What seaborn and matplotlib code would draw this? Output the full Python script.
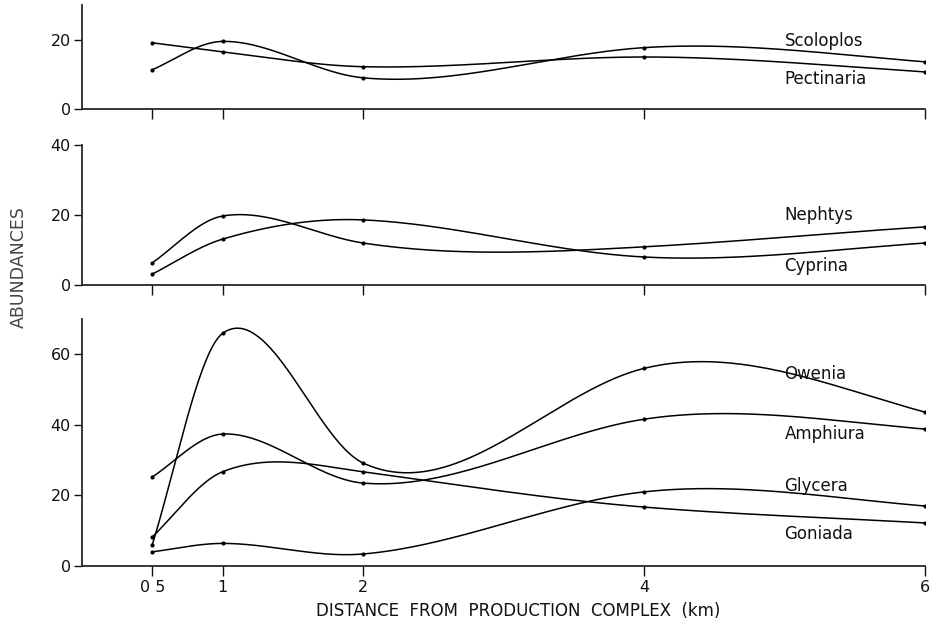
import numpy as np
import pandas as pd
import matplotlib
matplotlib.use("Agg")
import matplotlib.pyplot as plt
import seaborn as sns

# ---- data ----
distance = [0.5, 1, 2, 4, 6]
x_ticks = [0.5, 1, 2, 4, 6]
x_tick_labels = ["0 5", "1", "2", "4", "6"]

scoloplos = [11.3, 19.5, 9.0, 17.7, 13.6]
pectinaria = [19.1, 16.5, 12.2, 15.0, 10.7]

nephtys = [6.3, 19.7, 12.0, 10.9, 16.6]
cyprina = [3.1, 13.1, 18.6, 8.0, 12.0]

owenia = [6.0, 65.9, 29.2, 56.0, 43.6]
amphiura = [25.2, 37.4, 23.5, 41.6, 38.8]
glycera = [4.0, 6.4, 3.4, 21.0, 17.0]
goniada = [8.2, 26.7, 26.7, 16.7, 12.2]

panels = [
    {"series": {"Scoloplos": scoloplos, "Pectinaria": pectinaria},
     "label_y": {"Scoloplos": 19.7, "Pectinaria": 8.7},
     "ylim": 30, "yticks": [0, 20]},
    {"series": {"Nephtys": nephtys, "Cyprina": cyprina},
     "label_y": {"Nephtys": 20.0, "Cyprina": 5.4},
     "ylim": 40, "yticks": [0, 20, 40]},
    {"series": {"Owenia": owenia, "Amphiura": amphiura,
                "Glycera": glycera, "Goniada": goniada},
     "label_y": {"Owenia": 54.3, "Amphiura": 37.4, "Glycera": 22.6, "Goniada": 9.0},
     "ylim": 70, "yticks": [0, 20, 40, 60]},
]


def hermite_curve(x, y, xs):
    """Cubic Hermite curve through the points (Catmull-Rom style tangents)."""
    n = len(x)
    m = np.empty(n)
    m[0] = (y[1] - y[0]) / (x[1] - x[0])
    m[-1] = (y[-1] - y[-2]) / (x[-1] - x[-2])
    for i in range(1, n - 1):
        m[i] = (y[i + 1] - y[i - 1]) / (x[i + 1] - x[i - 1])
    out = np.empty_like(xs)
    for k, xv in enumerate(xs):
        i = min(max(np.searchsorted(x, xv) - 1, 0), n - 2)
        h = x[i + 1] - x[i]
        t = (xv - x[i]) / h
        out[k] = ((2 * t ** 3 - 3 * t ** 2 + 1) * y[i] + (t ** 3 - 2 * t ** 2 + t) * h * m[i]
                  + (-2 * t ** 3 + 3 * t ** 2) * y[i + 1] + (t ** 3 - t ** 2) * h * m[i + 1])
    return out


def natural_spline(x, y, xs):
    n = len(x)
    h = np.diff(x)
    A = np.zeros((n, n))
    b = np.zeros(n)
    A[0, 0] = 1
    A[-1, -1] = 1
    for i in range(1, n - 1):
        A[i, i - 1] = h[i - 1]
        A[i, i] = 2 * (h[i - 1] + h[i])
        A[i, i + 1] = h[i]
        b[i] = 6 * ((y[i + 1] - y[i]) / h[i] - (y[i] - y[i - 1]) / h[i - 1])
    M = np.linalg.solve(A, b)
    out = np.empty_like(xs)
    for k, xv in enumerate(xs):
        i = min(max(np.searchsorted(x, xv) - 1, 0), n - 2)
        t1 = x[i + 1] - xv
        t0 = xv - x[i]
        out[k] = ((M[i] * t1 ** 3 + M[i + 1] * t0 ** 3) / (6 * h[i])
                  + (y[i] / h[i] - M[i] * h[i] / 6) * t1
                  + (y[i + 1] / h[i] - M[i + 1] * h[i] / 6) * t0)
    return out


def smooth_curve(x, y, xs):
    x = np.asarray(x, float)
    y = np.asarray(y, float)
    return 0.7 * hermite_curve(x, y, xs) + 0.3 * natural_spline(x, y, xs)


sns.set_theme(style="ticks")
plt.rcParams["font.family"] = ["DejaVu Sans"]

fig = plt.figure(figsize=(9.36, 6.3), dpi=100)
W, H = 936, 630
left_px, right_px = 82, 925
boxes = [(5, 109), (145, 285), (319, 566)]

xs = np.linspace(0.5, 6, 400)
for panel, (top, bot) in zip(panels, boxes):
    ax = fig.add_axes([left_px / W, (H - bot) / H, (right_px - left_px) / W, (bot - top) / H])
    for name, vals in panel["series"].items():
        dense = pd.DataFrame({"x": xs, "y": smooth_curve(distance, vals, xs)})
        sns.lineplot(data=dense, x="x", y="y", ax=ax, color="black", lw=1.1,
                     sort=False, estimator=None)
        pts = pd.DataFrame({"x": distance, "y": vals})
        sns.scatterplot(data=pts, x="x", y="y", ax=ax, color="black", s=9,
                        edgecolor="black", linewidth=0, zorder=3)
        ax.text(5.0, panel["label_y"][name], name, fontsize=12,
                ha="left", va="center", color="#111111")
    ax.set_xlim(0, 6.0)
    ax.set_ylim(0, panel["ylim"])
    ax.set_yticks(panel["yticks"])
    ax.set_xticks(x_ticks)
    ax.set_xlabel("")
    ax.set_ylabel("")
    for s in ["top", "right"]:
        ax.spines[s].set_visible(False)
    ax.spines["left"].set_linewidth(1.3)
    ax.spines["bottom"].set_linewidth(1.3)
    ax.tick_params(axis="both", direction="out", length=6, width=1.0,
                   labelsize=11.5, colors="#111111", pad=2)
    ax.tick_params(axis="x", length=7)
    ax.set_facecolor("white")
    if top == 319:
        ax.set_xticklabels(x_tick_labels)
        ax.tick_params(axis="x", pad=3)
        ax.set_xlabel("DISTANCE  FROM  PRODUCTION  COMPLEX  (km)", fontsize=12,
                      labelpad=5, color="#111111")
        ax.xaxis.label.set_x(0.518)
    else:
        ax.set_xticklabels([])

fig.text(19 / W, 1 - 267 / H, "ABUNDANCES", rotation=90, fontsize=12.5,
         ha="center", va="center", color="#444444")

fig.savefig("out.png", dpi=100, facecolor="white")
